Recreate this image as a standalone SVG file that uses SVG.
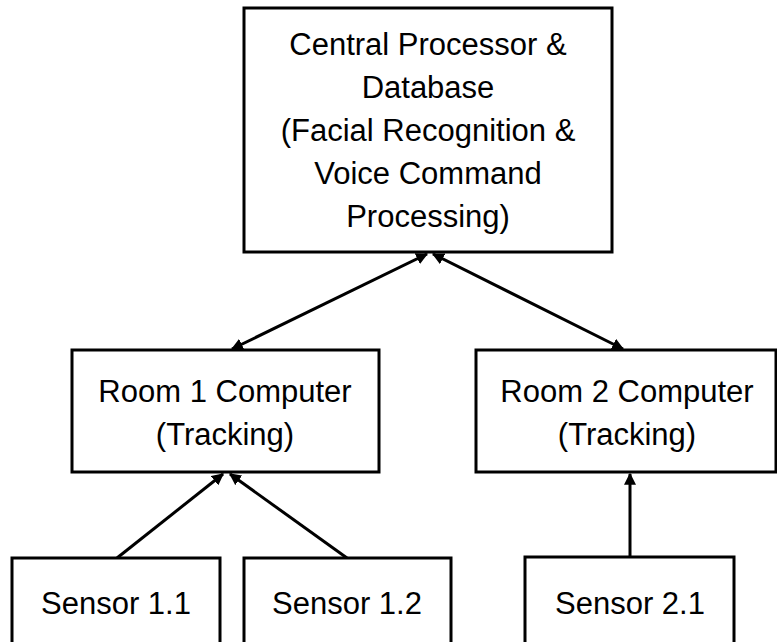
<svg xmlns="http://www.w3.org/2000/svg" width="777" height="642" viewBox="0 0 777 642">
<style>
.box{fill:#fff;stroke:#000;stroke-width:3}
.t{font-family:"Liberation Sans",Arial,sans-serif;font-size:31px;fill:#000;text-anchor:middle}
.c{stroke:#000;stroke-width:3;fill:none}
</style>
<defs>
<marker id="ah" viewBox="0 0 10 10" refX="9" refY="5" markerWidth="4" markerHeight="4" orient="auto-start-reverse" markerUnits="strokeWidth">
<path d="M0,0 L10,5 L0,10 z" fill="#000"/>
</marker>
</defs>
<rect width="777" height="642" fill="#fff"/>
<g id="connectors">
<line class="c" x1="427" y1="254" x2="232" y2="349" marker-start="url(#ah)" marker-end="url(#ah)"/>
<line class="c" x1="433" y1="254" x2="623" y2="349" marker-start="url(#ah)" marker-end="url(#ah)"/>
<line class="c" x1="117" y1="558" x2="223" y2="474" marker-end="url(#ah)"/>
<line class="c" x1="347" y1="558" x2="230" y2="474" marker-end="url(#ah)"/>
<line class="c" x1="630" y1="557" x2="630" y2="474" marker-end="url(#ah)"/>
</g>
<g id="central">
<rect class="box" x="244" y="8" width="368" height="244"/>
<text class="t" x="428" y="55">Central Processor &amp;</text>
<text class="t" x="428" y="98">Database</text>
<text class="t" x="428" y="141">(Facial Recognition &amp;</text>
<text class="t" x="428" y="184">Voice Command</text>
<text class="t" x="428" y="227">Processing)</text>
</g>
<g id="room1">
<rect class="box" x="72" y="350" width="307" height="122"/>
<text class="t" x="225" y="402">Room 1 Computer</text>
<text class="t" x="225" y="445">(Tracking)</text>
</g>
<g id="room2">
<rect class="box" x="476" y="350" width="300" height="122"/>
<text class="t" x="627" y="402">Room 2 Computer</text>
<text class="t" x="627" y="445">(Tracking)</text>
</g>
<g id="sensor11">
<rect class="box" x="12" y="558" width="208" height="100"/>
<text class="t" x="116" y="614">Sensor 1.1</text>
</g>
<g id="sensor12">
<rect class="box" x="244" y="558" width="207" height="100"/>
<text class="t" x="347" y="614">Sensor 1.2</text>
</g>
<g id="sensor21">
<rect class="box" x="525" y="557" width="209" height="100"/>
<text class="t" x="630" y="614">Sensor 2.1</text>
</g>
</svg>
